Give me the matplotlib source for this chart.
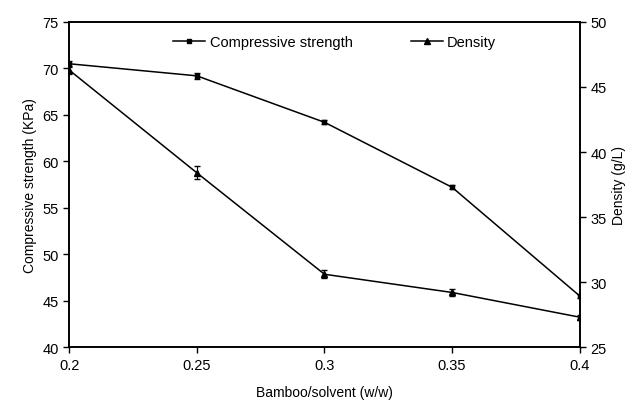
import matplotlib
matplotlib.use("Agg")
import matplotlib.pyplot as plt
from matplotlib.lines import Line2D

plt.rcParams['font.family'] = ['Liberation Sans', 'DejaVu Sans']

# bamboo/solvent ratio
ratio = [0.2, 0.25, 0.3, 0.35, 0.4]

# compressive strength (KPa), left axis
strength = [70.5, 69.2, 64.2, 57.2, 45.5]
strength_err = [0.3, 0.3, 0.2, 0.2, 0.2]

# density (g/L), right axis
density = [46.3, 38.4, 30.6, 29.2, 27.3]
density_err = [0.3, 0.5, 0.3, 0.3, 0.2]

fig = plt.figure(figsize=(6.35, 4.10), dpi=100)
ax = fig.add_axes([0.109, 0.151, 0.804, 0.793])
ax2 = ax.twinx()

ax.errorbar(ratio, strength, yerr=strength_err, color='black', marker='s',
            markersize=3.5, linewidth=1.1, capsize=2.5, elinewidth=0.8)
ax2.errorbar(ratio, density, yerr=density_err, color='black', marker='^',
             markersize=4, linewidth=1.1, capsize=2.5, elinewidth=0.8)

ax.set_xlim(0.2, 0.4)
ax.set_ylim(40, 75)
ax2.set_ylim(25, 50)
ax.set_xticks(ratio)
ax.set_xticklabels(['0.2', '0.25', '0.3', '0.35', '0.4'])
ax.set_yticks(range(40, 76, 5))
ax2.set_yticks(range(25, 51, 5))

for a in (ax, ax2):
    a.tick_params(direction='out', length=4, width=1, labelsize=10.5)
    for s in a.spines.values():
        s.set_linewidth(1.2)

ax.set_xlabel('Bamboo/solvent (w/w)', fontsize=10, labelpad=10)
ax.set_ylabel('Compressive strength (KPa)', fontsize=10, labelpad=4)
ax2.set_ylabel('Density (g/L)', fontsize=10, labelpad=4)

h1 = Line2D([], [], color='black', marker='s', markersize=3.5, linewidth=1.1)
h2 = Line2D([], [], color='black', marker='^', markersize=4, linewidth=1.1)
ax.legend([h1, h2], ['Compressive strength', 'Density'], loc='upper center',
          ncol=2, frameon=False, fontsize=10.5, handlelength=2.2,
          handletextpad=0.3, columnspacing=4, bbox_to_anchor=(0.52, 1.0))

fig.savefig('out.png', dpi=100)
